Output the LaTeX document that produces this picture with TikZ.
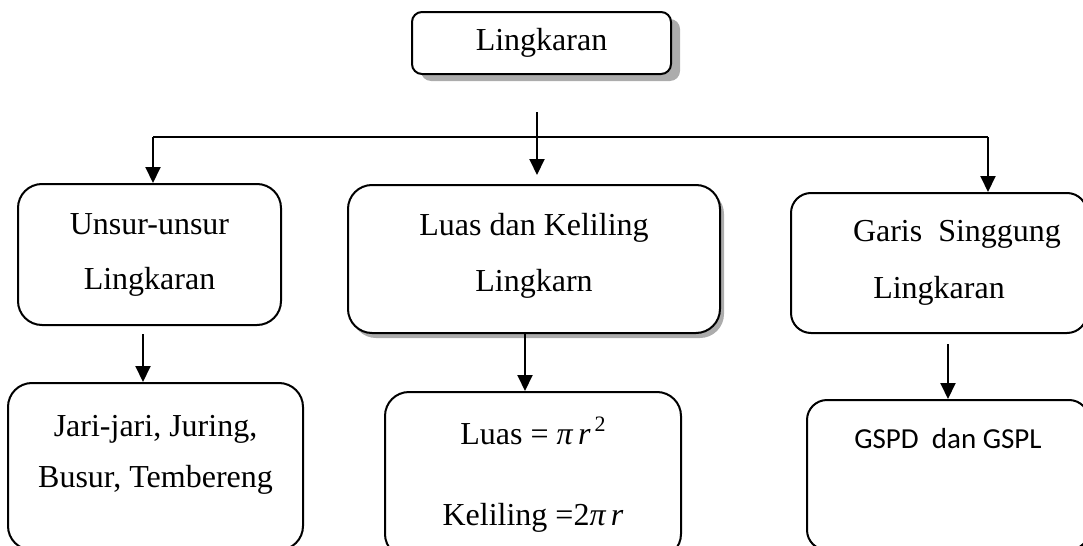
\documentclass[tikz,border=0pt]{standalone}
\usepackage{fontspec}
\setmainfont{Liberation Serif}
\newfontfamily\gspdfont{Carlito}
\usetikzlibrary{arrows.meta,shadows,positioning}

\begin{document}
\begin{tikzpicture}[x=0.5pt,y=-0.5pt,>={Triangle[length=8pt,width=7.5pt]},line width=1pt,
    box/.style={draw,fill=white,rounded corners=12pt,line width=1pt,align=center,inner sep=0pt,font=\fontsize{16}{19}\selectfont},
    box shadow/.style 2 args={drop shadow={shadow xshift=#1,shadow yshift=-#2,fill=gray!65,opacity=1}}]
        \useasboundingbox (0,0) rectangle (1083,546);

        \node[box,rounded corners=5pt,minimum width=129.5pt,minimum height=31pt,box shadow={4.5pt}{3.5pt}] (lingkaran) at (541.5,43) {Lingkaran};
        \node[box,minimum width=131.5pt,minimum height=70.5pt] (unsur) at (149.5,254.5) {Unsur-unsur\\[8.5pt]Lingkaran};
        \node[box,minimum width=186pt,minimum height=74pt,box shadow={2pt}{2.5pt}] (luaskel) at (534,259) {Luas dan Keliling\\[9pt]Lingkarn\\[-12pt]\mbox{}};
        \node[box,rounded corners=10pt,minimum width=148pt,minimum height=70pt] (garis) at (939,263) {\hspace*{18pt}Garis\ \ Singgung\\[9.5pt]Lingkaran};
        \node[box,minimum width=147.5pt,minimum height=83.5pt] (jari) at (155.5,466.5) {Jari-jari, Juring,\\[6.5pt]Busur, Tembereng\\[-4pt]\mbox{}};
        \node[box,minimum width=148pt,minimum height=83pt] (rumus) at (533,475) {Luas = \textit{π\,r}\kern2pt\raisebox{6.5pt}{\fontsize{11}{11}\selectfont 2}\\[21.5pt]Keliling =2\textit{π\,r}};
        \node[box,rounded corners=10pt,minimum width=141pt,minimum height=75pt,font=\gspdfont\fontsize{14.5}{17.4}\selectfont] (gspd) at (948,475) {GSPD\ \ dan GSPL\\[19.6pt]\mbox{}};

        \coordinate (split) at (537,112);
        \coordinate (barL) at (153,137);
        \coordinate (barR) at (988,137);

        \draw (barL) -- (barR);
        \draw[->,shorten >=4.5pt] (split) -- (split |- luaskel.north);
        \draw[->] (barL) -- (barL |- unsur.north);
        \draw[->] (barR) -- (barR |- garis.north);
        \draw[->] ([shift={(-3.25pt,-4pt)}]unsur.south) -- ([xshift=-3.25pt]unsur.south |- jari.north);
        \draw[->] ([xshift=-4.5pt]luaskel.south) -- ([xshift=-4.5pt]luaskel.south |- rumus.north);
        \draw[->] ([yshift=-5pt]garis.south -| gspd.north) -- (gspd.north);
\end{tikzpicture}
\end{document}
